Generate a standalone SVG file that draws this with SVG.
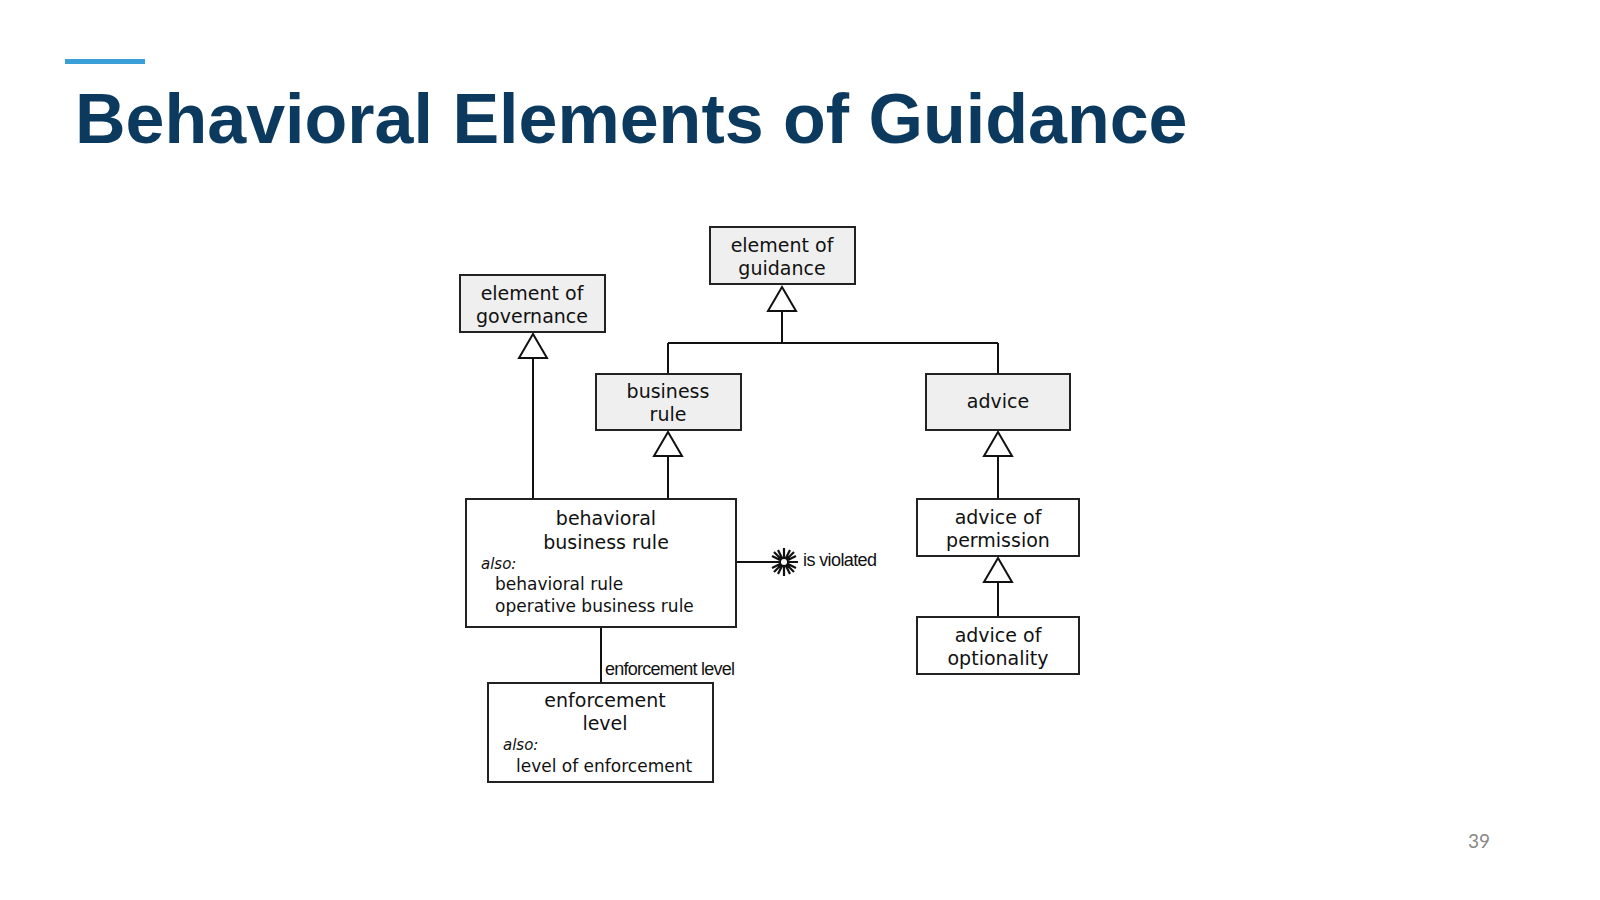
<svg xmlns="http://www.w3.org/2000/svg" width="1600" height="900" viewBox="0 0 1600 900">
<style>
.box{stroke:#222;stroke-width:2;fill:#fff}
.g{fill:#efefef}
.t{font-family:"DejaVu Sans",sans-serif;font-size:19px;fill:#111;text-anchor:middle}
.l{font-family:"DejaVu Sans",sans-serif;font-size:17px;fill:#111}
.i{font-family:"DejaVu Sans",sans-serif;font-size:15px;font-style:italic;fill:#111}
.c{stroke:#111;stroke-width:2;fill:none}
.tri{stroke:#111;stroke-width:2;fill:#fff}
.lab{font-family:"Liberation Sans Narrow","Liberation Sans",sans-serif;font-size:18px;fill:#111}
</style>
<rect width="1600" height="900" fill="#fff"/>
<rect x="65" y="59" width="80" height="5" fill="#3a9fd6"/>
<text x="75" y="143" font-family="Liberation Sans,Arial,sans-serif" font-weight="bold" font-size="70" fill="#0c3a5e">Behavioral Elements of Guidance</text>
<text x="1490" y="848" font-family="Lato,sans-serif" font-size="19" fill="#888" text-anchor="end">39</text>
<g id="connectors">
<path class="c" d="M782 311V343M668 343H998M668 343V374M998 343V374"/>
<path class="c" d="M533 358V499M668 456V499M998 456V499M998 582V617M601 627V683M736 562H772"/>
<polygon class="tri" points="782,287 768,311 796,311"/>
<polygon class="tri" points="533,334 519,358 547,358"/>
<polygon class="tri" points="668,432 654,456 682,456"/>
<polygon class="tri" points="998,432 984,456 1012,456"/>
<polygon class="tri" points="998,558 984,582 1012,582"/>
<path d="M784 548V576M770 562H798M774 552L794 572M774 572L794 552M778 550L790 574M778 574L790 550M772 556L796 568M772 568L796 556" stroke="#111" stroke-width="2.2"/>
<circle cx="784" cy="562" r="3" fill="#fff"/>
<text class="lab" x="803" y="566" textLength="74">is violated</text>
<text class="lab" x="605" y="675" textLength="130">enforcement level</text>
</g>
<g id="n-guidance"><rect class="box g" x="710" y="227" width="145" height="57"/><text class="t" x="782" y="252">element of</text><text class="t" x="782" y="275">guidance</text></g>
<g id="n-governance"><rect class="box g" x="460" y="275" width="145" height="57"/><text class="t" x="532" y="300">element of</text><text class="t" x="532" y="323">governance</text></g>
<g id="n-business-rule"><rect class="box g" x="596" y="374" width="145" height="56"/><text class="t" x="668" y="398">business</text><text class="t" x="668" y="421">rule</text></g>
<g id="n-advice"><rect class="box g" x="926" y="374" width="144" height="56"/><text class="t" x="998" y="408">advice</text></g>
<g id="n-behavioral"><rect class="box" x="466" y="499" width="270" height="128"/><text class="t" x="606" y="525">behavioral</text><text class="t" x="606" y="549">business rule</text><text class="i" x="481" y="569">also:</text><text class="l" x="495" y="590">behavioral rule</text><text class="l" x="495" y="612">operative business rule</text></g>
<g id="n-permission"><rect class="box" x="917" y="499" width="162" height="57"/><text class="t" x="998" y="524">advice of</text><text class="t" x="998" y="547">permission</text></g>
<g id="n-optionality"><rect class="box" x="917" y="617" width="162" height="57"/><text class="t" x="998" y="642">advice of</text><text class="t" x="998" y="665">optionality</text></g>
<g id="n-enforcement"><rect class="box" x="488" y="683" width="225" height="99"/><text class="t" x="605" y="707">enforcement</text><text class="t" x="605" y="730">level</text><text class="i" x="503" y="750">also:</text><text class="l" x="516" y="772">level of enforcement</text></g>
</svg>
